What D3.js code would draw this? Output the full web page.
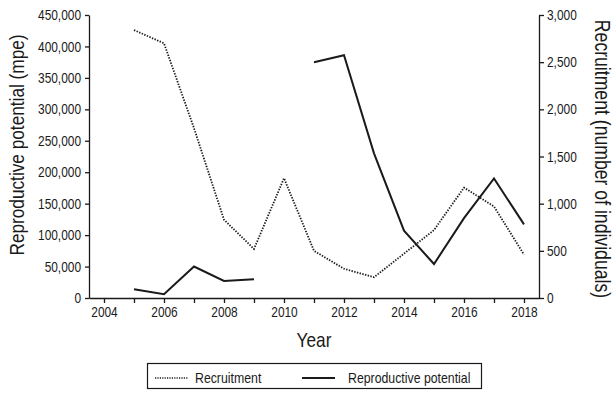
<!DOCTYPE html>
<html>
<head>
<meta charset="utf-8">
<script src="https://cdn.jsdelivr.net/npm/d3@7"></script>
<style>
  body { margin: 0; background: #fff; }
  svg text { font-family: "Liberation Sans", Arial, sans-serif; fill: #1a1a1a; }
</style>
</head>
<body>
<div id="chart"></div>
<script>
// data
var years = [2005, 2006, 2007, 2008, 2009, 2010, 2011, 2012, 2013, 2014, 2015, 2016, 2017, 2018];
var recruitment = [2840, 2700, 1800, 830, 520, 1270, 500, 310, 220, 470, 720, 1170, 970, 460];
var reproPotential = [14000, 6000, 50000, 27000, 30000, null, 375000, 386000, 230000, 107000, 54000, 127000, 190000, 117000];
var xTicks = d3.range(2004, 2019);
var leftTicks = d3.range(0, 450001, 50000);
var rightTicks = d3.range(0, 3001, 500);

// set the dimensions and margins
var margin = { top: 15, right: 76, bottom: 99, left: 89 },
    width = 615 - margin.left - margin.right,
    height = 397 - margin.top - margin.bottom;

var svg = d3.select("#chart")
    .append("svg")
    .attr("width", 615)
    .attr("height", 397);

var g = svg.append("g")
    .attr("transform", "translate(" + margin.left + "," + margin.top + ")");

// scales
var xscale = d3.scaleLinear().domain([2003.5, 2018.5]).range([0, width]);
var yLeft = d3.scaleLinear().domain([0, 450000]).range([height, 0]);
var yRight = d3.scaleLinear().domain([0, 3000]).range([height, 0]);

// axes
g.append("g")
    .attr("transform", "translate(0," + height + ")")
    .call(d3.axisBottom(xscale)
        .tickValues(xTicks)
        .tickSizeInner(5).tickSizeOuter(0)
        .tickPadding(4)
        .tickFormat(function (d) { return d % 2 === 0 ? d : ""; }));

g.append("g")
    .call(d3.axisLeft(yLeft)
        .tickValues(leftTicks)
        .tickSizeInner(4).tickSizeOuter(0)
        .tickPadding(4)
        .tickFormat(d3.format(",")));

g.append("g")
    .attr("transform", "translate(" + width + ",0)")
    .call(d3.axisRight(yRight)
        .tickValues(rightTicks)
        .tickSizeInner(5).tickSizeOuter(0)
        .tickPadding(3)
        .tickFormat(d3.format(",")));

// style the axes
g.selectAll(".domain, .tick line")
    .attr("stroke", "#1a1a1a")
    .attr("stroke-width", 1.3);
g.selectAll(".tick text")
    .style("font-size", "14.5px")
    .attr("font-family", null)
    .attr("fill", "#1a1a1a");

// axis titles
g.append("text")
    .attr("transform", "rotate(-90)")
    .attr("x", -130)
    .attr("y", 24 - margin.left)
    .style("text-anchor", "middle")
    .style("font-size", "21px")
    .text("Reproductive potential (mpe)");

g.append("text")
    .attr("transform", "rotate(90)")
    .attr("x", 144)
    .attr("y", -(595 - margin.left))
    .style("text-anchor", "middle")
    .style("font-size", "21.5px")
    .text("Recruitment (number of individuals)");

g.append("text")
    .attr("x", width / 2)
    .attr("y", 347 - margin.top)
    .style("text-anchor", "middle")
    .style("font-size", "21px")
    .text("Year");

// lines
var recData = years.map(function (y, i) { return { year: y, value: recruitment[i] }; });
var repData = years.map(function (y, i) { return { year: y, value: reproPotential[i] }; });

var recLine = d3.line()
    .x(function (d) { return xscale(d.year); })
    .y(function (d) { return yRight(d.value); });

var repLine = d3.line()
    .defined(function (d) { return d.value !== null; })
    .x(function (d) { return xscale(d.year); })
    .y(function (d) { return yLeft(d.value); });

g.append("path")
    .datum(recData)
    .attr("d", recLine)
    .attr("fill", "none")
    .attr("stroke", "#1a1a1a")
    .attr("stroke-width", 1.8)
    .attr("stroke-dasharray", "1.4,1.4");

g.append("path")
    .datum(repData)
    .attr("d", repLine)
    .attr("fill", "none")
    .attr("stroke", "#1a1a1a")
    .attr("stroke-width", 2);

// legend
var legend = svg.append("g");
legend.append("rect")
    .attr("x", 147.5).attr("y", 363.5)
    .attr("width", 334).attr("height", 25)
    .attr("fill", "none")
    .attr("stroke", "#1a1a1a")
    .attr("stroke-width", 1.2);

legend.append("line")
    .attr("x1", 155).attr("x2", 188)
    .attr("y1", 378).attr("y2", 378)
    .attr("stroke", "#1a1a1a")
    .attr("stroke-width", 1.6)
    .attr("stroke-dasharray", "1.2,1.2");
legend.append("text")
    .attr("x", 195).attr("y", 383)
    .style("font-size", "15px")
    .text("Recruitment");

legend.append("line")
    .attr("x1", 302).attr("x2", 335)
    .attr("y1", 378).attr("y2", 378)
    .attr("stroke", "#1a1a1a")
    .attr("stroke-width", 2);
legend.append("text")
    .attr("x", 348).attr("y", 383)
    .style("font-size", "15px")
    .text("Reproductive potential");

// no narrow font installed: squeeze every label to condensed width
svg.selectAll("text").each(function () {
    var w = this.getComputedTextLength();
    if (w > 0) {
        d3.select(this)
            .attr("textLength", w * 0.82)
            .attr("lengthAdjust", "spacingAndGlyphs");
    }
});
</script>
</body>
</html>
